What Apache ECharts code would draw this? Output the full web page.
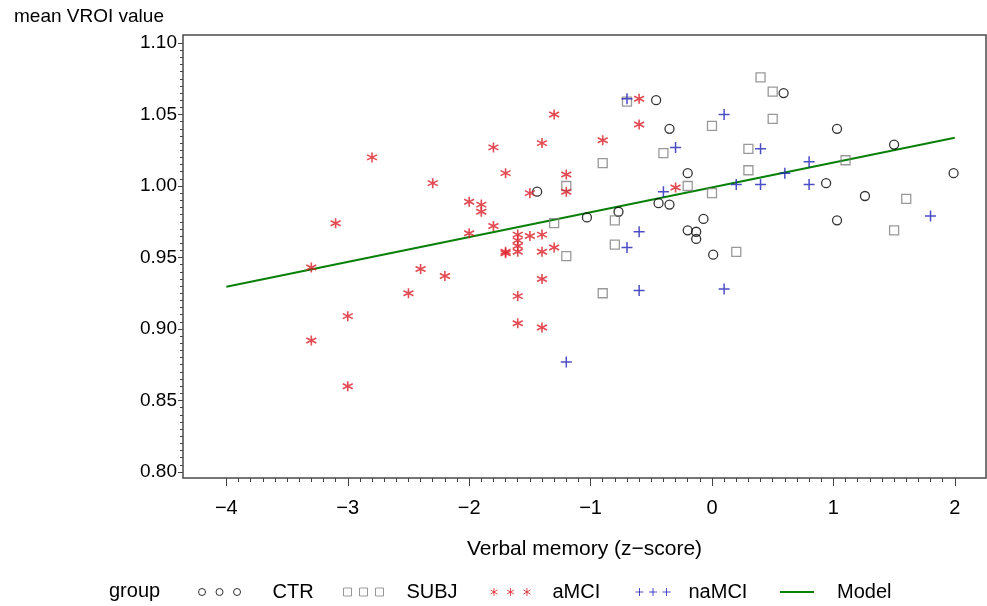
<!DOCTYPE html>
<html>
<head>
<meta charset="utf-8">
<script src="https://cdn.jsdelivr.net/npm/echarts@6/dist/echarts.min.js"></script>
<style>
  html, body { margin: 0; padding: 0; background: #fff; }
  #chart { width: 987px; height: 606px; }
</style>
</head>
<body>
<div id="chart"></div>
<script>
// axis ticks
var xTicks = [-4, -3, -2, -1, 0, 1, 2];
var yTicks = [0.80, 0.85, 0.90, 0.95, 1.00, 1.05, 1.10];

// CTR (circles)
var ctrX = [-0.46, -0.35, -0.20, -1.44, -0.44, -0.35, -0.77, -1.03, -0.07, -0.20, -0.13, -0.13, 0.59, 1.03, 1.50, 0.94, 1.99, 1.26, 1.03, 0.01];
var ctrY = [1.060, 1.040, 1.009, 0.996, 0.988, 0.987, 0.982, 0.978, 0.977, 0.969, 0.968, 0.963, 1.065, 1.040, 1.029, 1.002, 1.009, 0.993, 0.976, 0.952];

// SUBJ (squares)
var subjX = [-0.7, -0.4, -0.9, -1.2, -0.2, 0.0, -0.8, -1.3, -0.8, -1.2, -0.9, 0.4, 0.5, 0.0, 0.5, 0.3, 0.3, 1.1, 1.6, 1.5, 0.2];
var subjY = [1.059, 1.023, 1.016, 1.000, 1.000, 0.995, 0.976, 0.974, 0.959, 0.951, 0.925, 1.076, 1.066, 1.042, 1.047, 1.026, 1.011, 1.018, 0.991, 0.969, 0.954];

// aMCI (asterisks)
var amciX = [-2.8, -2.3, -3.1, -0.6, -1.3, -0.6, -1.8, -1.4, -0.9, -1.7, -1.2, -1.2, -0.3, -1.5, -2.0, -1.9, -1.9, -1.8, -2.0, -1.6,
             -1.5, -1.4, -1.6, -1.6, -1.7, -1.7, -1.6, -1.4, -1.3, -2.2, -1.4, -1.6, -1.6, -1.4, -3.3, -2.4, -2.5, -3.0, -3.3, -3.0];
var amciY = [1.020, 1.002, 0.974, 1.061, 1.050, 1.043, 1.027, 1.030, 1.032, 1.009, 1.008, 0.996, 0.999, 0.995, 0.989, 0.987, 0.982, 0.972, 0.967, 0.966,
             0.965, 0.966, 0.962, 0.958, 0.954, 0.953, 0.954, 0.954, 0.957, 0.937, 0.935, 0.923, 0.904, 0.901, 0.943, 0.942, 0.925, 0.909, 0.892, 0.860];

// naMCI (plus)
var namciX = [-0.7, -0.3, -0.4, -0.6, -0.7, -0.6, -1.2, 0.1, 0.4, 0.8, 0.6, 0.2, 0.4, 0.8, 1.8, 0.1];
var namciY = [1.061, 1.027, 0.996, 0.968, 0.957, 0.927, 0.877, 1.050, 1.026, 1.017, 1.009, 1.001, 1.001, 1.001, 0.979, 0.928];

// fitted model line
var modelX = [-4, 2];
var modelY = [0.9296, 1.0338];

function zip(xs, ys) {
  return xs.map(function (x, i) { return [x, ys[i]]; });
}
function minorTicks(major, steps) {
  var out = [];
  for (var i = 0; i < major.length - 1; i++) {
    var d = (major[i + 1] - major[i]) / steps;
    for (var k = 1; k < steps; k++) out.push(+(major[i] + k * d).toFixed(4));
  }
  return out;
}

var font = 'Liberation Sans, Arial, sans-serif';
var axisGray = '#444';

// symbols
var starPath = 'path://M0,-10L0,10M-8.66,-5L8.66,5M-8.66,5L8.66,-5';
var plusPath = 'path://M0,-10L0,10M-10,0L10,0';

function tripleIcon(kind) {
  var p = '';
  var i, c;
  if (kind === 'circle') {
    for (i = 0; i < 3; i++) { c = i * 17.5; p += 'M' + c + ',3.5a3.5,3.5 0 1,0 7,0a3.5,3.5 0 1,0 -7,0'; }
  } else if (kind === 'square') {
    for (i = 0; i < 3; i++) { c = i * 16; p += 'M' + c + ',0h8v8h-8z'; }
  } else if (kind === 'star') {
    for (i = 0; i < 3; i++) {
      c = 3.5 + i * 16.5;
      p += 'M' + c + ',0L' + c + ',8M' + (c - 3.46) + ',2L' + (c + 3.46) + ',6M' + (c - 3.46) + ',6L' + (c + 3.46) + ',2';
    }
  } else {
    for (i = 0; i < 3; i++) {
      c = 4 + i * 13.5;
      p += 'M' + c + ',0L' + c + ',8M' + (c - 4) + ',4L' + (c + 4) + ',4';
    }
  }
  return 'path://' + p;
}

var groups = [
  { name: 'CTR',   data: zip(ctrX, ctrY),     symbol: 'circle', size: 9,  lw: 1.3, color: '#000',    icon: 'circle', left: 193, w: 42, h: 7, pad: 27 },
  { name: 'SUBJ',  data: zip(subjX, subjY),   symbol: 'rect',   size: 9,  lw: 1.3, color: '#808080', icon: 'square', left: 338, w: 40, h: 8, pad: 18 },
  { name: 'aMCI',  data: zip(amciX, amciY),   symbol: starPath, size: 10, lw: 1.6, color: '#dc1e28', icon: 'star',   left: 485, w: 40, h: 8, pad: 17 },
  { name: 'naMCI', data: zip(namciX, namciY), symbol: plusPath, size: 11, lw: 1.5, color: '#2020b8', icon: 'plus',   left: 630, w: 35, h: 8, pad: 13 }
];

var series = groups.map(function (g) {
  return {
    name: g.name,
    type: 'scatter',
    data: g.data,
    symbol: g.symbol,
    symbolSize: g.size,
    itemStyle: { color: 'rgba(0,0,0,0)', borderColor: g.color, borderWidth: g.lw },
    z: 3
  };
});
series.push({
  name: 'Model',
  type: 'line',
  data: zip(modelX, modelY),
  showSymbol: false,
  symbol: 'none',
  lineStyle: { color: '#078007', width: 2 },
  itemStyle: { color: '#078007' },
  z: 2
});

var legendTop = 577;
var legendText = { fontFamily: font, fontSize: 20, color: '#000' };
var legends = groups.map(function (g) {
  return {
    left: g.left,
    top: legendTop,
    itemWidth: g.w,
    itemHeight: g.h,
    selectedMode: false,
    textStyle: Object.assign({ padding: [0, 0, 0, g.pad] }, legendText),
    data: [{ name: g.name, icon: tripleIcon(g.icon),
             itemStyle: { color: 'rgba(0,0,0,0)', borderColor: g.color, borderWidth: 1 } }]
  };
});
legends.push({
  left: 775,
  top: legendTop,
  itemWidth: 34,
  itemHeight: 2,
  selectedMode: false,
  textStyle: Object.assign({ padding: [0, 0, 0, 18] }, legendText),
  data: [{ name: 'Model', icon: 'rect', itemStyle: { color: '#078007' } }]
});

var xMin = -4.357, xMax = 2.257;
var yMin = 0.7958, yMax = 1.1056;

var chart = echarts.init(document.getElementById('chart'));
chart.setOption({
  animation: false,
  backgroundColor: '#fff',
  title: [
    { text: 'mean VROI value', left: 9, top: 2, textStyle: { fontFamily: font, fontSize: 19, fontWeight: 'normal', color: '#000' } },
    { text: 'group', left: 104, top: legendTop - 1, textStyle: { fontFamily: font, fontSize: 20, fontWeight: 'normal', color: '#000' } }
  ],
  legend: legends,
  grid: {
    left: 183, right: 1, top: 35, bottom: 128,
    show: true, borderColor: '#4a4a4a', borderWidth: 1.5, backgroundColor: '#fff'
  },
  xAxis: [
    {
      type: 'value', min: xMin, max: xMax, position: 'bottom',
      name: 'Verbal memory (z\u2212score)', nameLocation: 'middle', nameGap: 61,
      nameTextStyle: { fontFamily: font, fontSize: 21, color: '#000' },
      axisLine: { show: false, onZero: false },
      axisTick: { show: true, length: 8, customValues: xTicks, lineStyle: { color: axisGray } },
      axisLabel: {
        customValues: xTicks, margin: 20, fontFamily: font, fontSize: 20, color: '#000',
        formatter: function (v) { return String(v).replace('-', '\u2212'); }
      },
      splitLine: { show: false }
    },
    {
      type: 'value', min: xMin, max: xMax, position: 'bottom',
      axisLine: { show: false, onZero: false },
      axisTick: { show: true, length: 4, customValues: minorTicks(xTicks, 10), lineStyle: { color: axisGray } },
      axisLabel: { show: false },
      splitLine: { show: false }
    }
  ],
  yAxis: [
    {
      type: 'value', min: yMin, max: yMax, position: 'left',
      axisLine: { show: false, onZero: false },
      axisTick: { show: true, length: 5, customValues: yTicks, lineStyle: { color: axisGray } },
      axisLabel: {
        customValues: yTicks, margin: 6, fontFamily: font, fontSize: 19, color: '#000',
        formatter: function (v) { return v.toFixed(2); }
      },
      splitLine: { show: false }
    },
    {
      type: 'value', min: yMin, max: yMax, position: 'left',
      axisLine: { show: false, onZero: false },
      axisTick: { show: true, length: 3, customValues: minorTicks(yTicks, 10), lineStyle: { color: axisGray } },
      axisLabel: { show: false },
      splitLine: { show: false }
    }
  ],
  series: series
});
</script>
</body>
</html>
